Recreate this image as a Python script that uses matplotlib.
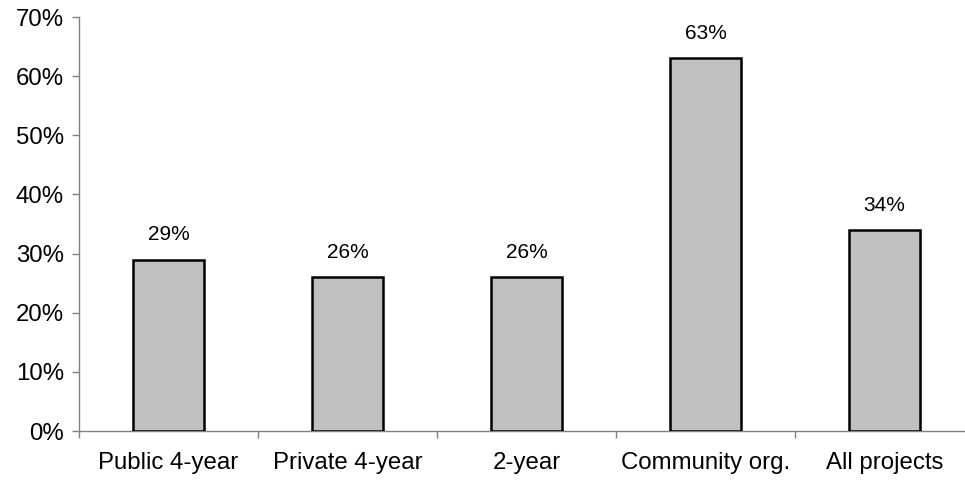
import matplotlib
matplotlib.use("Agg")
import matplotlib.pyplot as plt
import numpy as np

plt.rcParams['font.family'] = ['Liberation Sans', 'DejaVu Sans']

categories = ['Public 4-year', 'Private 4-year', '2-year', 'Community org.', 'All projects']
values = [29, 26, 26, 63, 34]
yticks = [0, 10, 20, 30, 40, 50, 60, 70]

fig = plt.figure(figsize=(9.65, 4.8), dpi=100)
ax = fig.add_axes([0.0819, 0.102, 0.9181, 0.8625])

x = np.arange(len(categories))
ax.bar(x, values, width=0.4, color='#c0c0c0', edgecolor='black', linewidth=1.8, zorder=3)

for xi, v in zip(x, values):
    ax.annotate(f'{v}%', (xi, v), xytext=(0, 11), textcoords='offset points',
                ha='center', va='bottom', fontsize=15)

ax.set_xlim(-0.5, 4.45)
ax.set_ylim(0, 70)
ax.set_yticks(yticks)
ax.set_yticklabels([f'{t}%' for t in yticks], fontsize=17.3)
ax.set_xticks(x)
ax.set_xticklabels(categories, fontsize=17.3)
ax.set_xticks(np.arange(-0.5, 4.5, 1), minor=True)
ax.tick_params(axis='x', which='major', length=0, pad=15)
ax.tick_params(axis='x', which='minor', length=5, color='#808080', width=1)
ax.tick_params(axis='y', length=5, color='#808080', width=1, pad=6)

for side in ['top', 'right']:
    ax.spines[side].set_visible(False)
for side in ['left', 'bottom']:
    ax.spines[side].set_color('#808080')
    ax.spines[side].set_linewidth(1)

fig.savefig('out.png', dpi=100)
